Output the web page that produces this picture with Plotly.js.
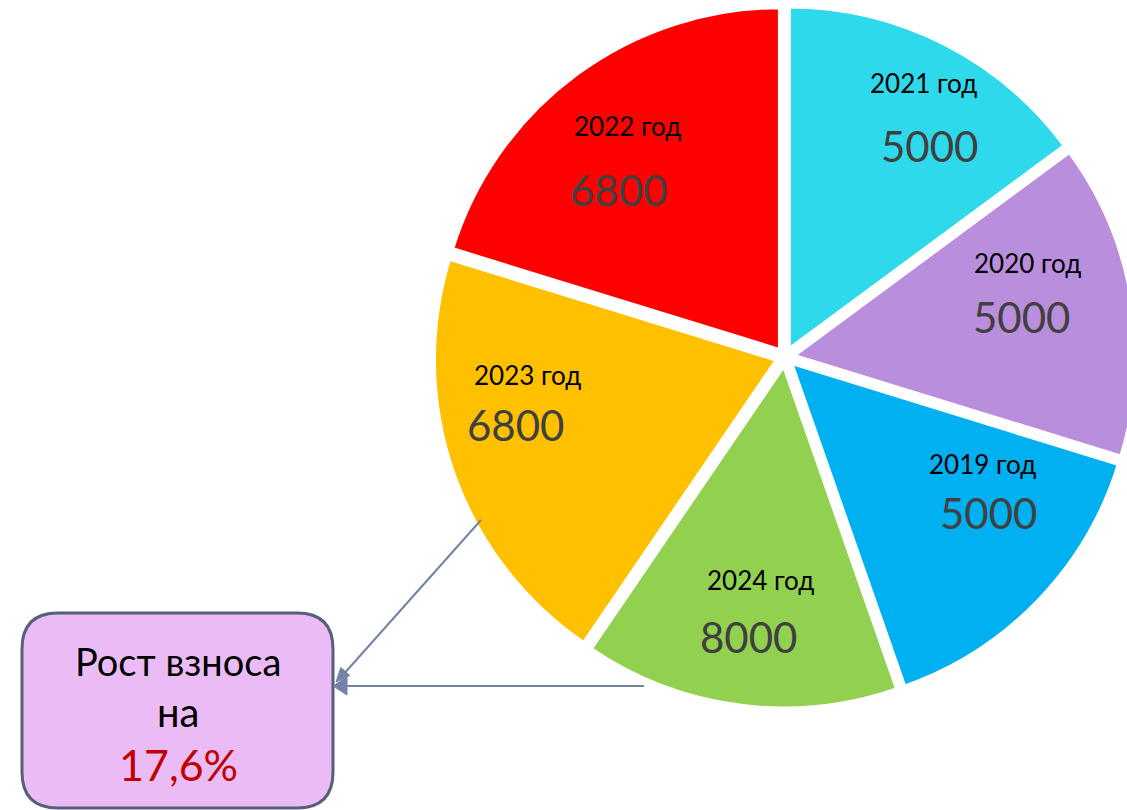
<!DOCTYPE html>
<html><head><meta charset="utf-8">
<script src="https://cdn.plot.ly/plotly-3.0.1.min.js"></script>
<style>html,body{margin:0;padding:0;overflow:hidden;background:#fff}#chart{width:1142px;height:810px}</style>
</head><body><div id="chart"></div>
<script>
// ---- data ----
const years = ['2021 год','2020 год','2019 год','2024 год','2023 год','2022 год'];
// slice sizes as drawn in the picture (the 2024 slice is drawn the same size as the 5000 slices)
const sliceValues = [5000, 5000, 5000, 5000, 6800, 6800];
// values printed on the slices
const feeLabels = [5000, 5000, 5000, 8000, 6800, 6800];
const sliceColors = ['#2DD9EA','#B98EDC','#00B0F0','#92D050','#FFC000','#FF0000'];
const calloutLines = ['Рост взноса', 'на', '17,6%'];

// ---- layout helpers (pixel positions of text, not data) ----
const W = 1142, H = 810;
const px = x => x / W, py = y => 1 - y / H;
const yearLabelPos = [[923,83],[1027,263],[982,464],[760,580],[527,375],[627,126]];
const valueLabelPos = [[929,146],[1021,317],[988,513],[748,637],[515,425],[618,190]];
const FONT = 'Lato, "Open Sans", sans-serif';

const annotations = [];
years.forEach((y, i) => {
  annotations.push({xref:'paper', yref:'paper', x:px(yearLabelPos[i][0]), y:py(yearLabelPos[i][1]),
    text:y, showarrow:false, xanchor:'center', yanchor:'middle',
    font:{family:FONT, size:26, color:'#000000'}});
  annotations.push({xref:'paper', yref:'paper', x:px(valueLabelPos[i][0]), y:py(valueLabelPos[i][1]),
    text:String(feeLabels[i]), showarrow:false, xanchor:'center', yanchor:'middle',
    font:{family:FONT, size:42, color:'#404040'}});
});
const calloutY = [661, 712, 764];
const calloutSizes = [38, 40, 43];
const calloutColors = ['#000000','#000000','#C00000'];
calloutLines.forEach((t, i) => {
  annotations.push({xref:'paper', yref:'paper', x:px(178), y:py(calloutY[i]),
    text:t, showarrow:false, xanchor:'center', yanchor:'middle',
    font:{family:FONT, size:calloutSizes[i], color:calloutColors[i]}});
});

function roundRect(x0, y0, x1, y1, r) {
  const P = (x, y) => px(x) + ',' + py(y);
  return 'M' + P(x0 + r, y0) + ' L' + P(x1 - r, y0) + ' Q' + P(x1, y0) + ' ' + P(x1, y0 + r) +
    ' L' + P(x1, y1 - r) + ' Q' + P(x1, y1) + ' ' + P(x1 - r, y1) +
    ' L' + P(x0 + r, y1) + ' Q' + P(x0, y1) + ' ' + P(x0, y1 - r) +
    ' L' + P(x0, y0 + r) + ' Q' + P(x0, y0) + ' ' + P(x0 + r, y0) + ' Z';
}
function tri(a, b, c) {
  const P = p => px(p[0]) + ',' + py(p[1]);
  return 'M' + P(a) + ' L' + P(b) + ' L' + P(c) + ' Z';
}
const arrowColor = '#7482A8';
const shapes = [
  {type:'path', xref:'paper', yref:'paper', path:roundRect(22, 613, 333, 808, 36),
   fillcolor:'#EABBF4', line:{color:'#56607A', width:3}},
  {type:'line', xref:'paper', yref:'paper', x0:px(481), y0:py(520), x1:px(342), y1:py(676),
   line:{color:arrowColor, width:2}},
  {type:'line', xref:'paper', yref:'paper', x0:px(644), y0:py(686), x1:px(345), y1:py(686),
   line:{color:arrowColor, width:2}},
  {type:'path', xref:'paper', yref:'paper', path:tri([333,686],[347,677],[347,695]),
   fillcolor:arrowColor, line:{color:arrowColor, width:1}},
  {type:'path', xref:'paper', yref:'paper', path:tri([336,682],[349.8,675.5],[340.8,667.5]),
   fillcolor:arrowColor, line:{color:arrowColor, width:1}}
];

const trace = {
  type:'pie', labels:years, values:sliceValues, sort:false, direction:'clockwise', rotation:0,
  marker:{colors:sliceColors, line:{color:'#ffffff', width:4}},
  pull:0.025, textinfo:'none', hoverinfo:'skip',
  domain:{x:[px(433.5), px(1136.5)], y:[py(708.5), py(5.5)]}
};

Plotly.newPlot('chart', [trace], {
  width:W, height:H, margin:{l:0,r:0,t:0,b:0}, showlegend:false,
  paper_bgcolor:'#ffffff', plot_bgcolor:'#ffffff',
  annotations:annotations, shapes:shapes
}, {staticPlot:true});
</script>
</body></html>
